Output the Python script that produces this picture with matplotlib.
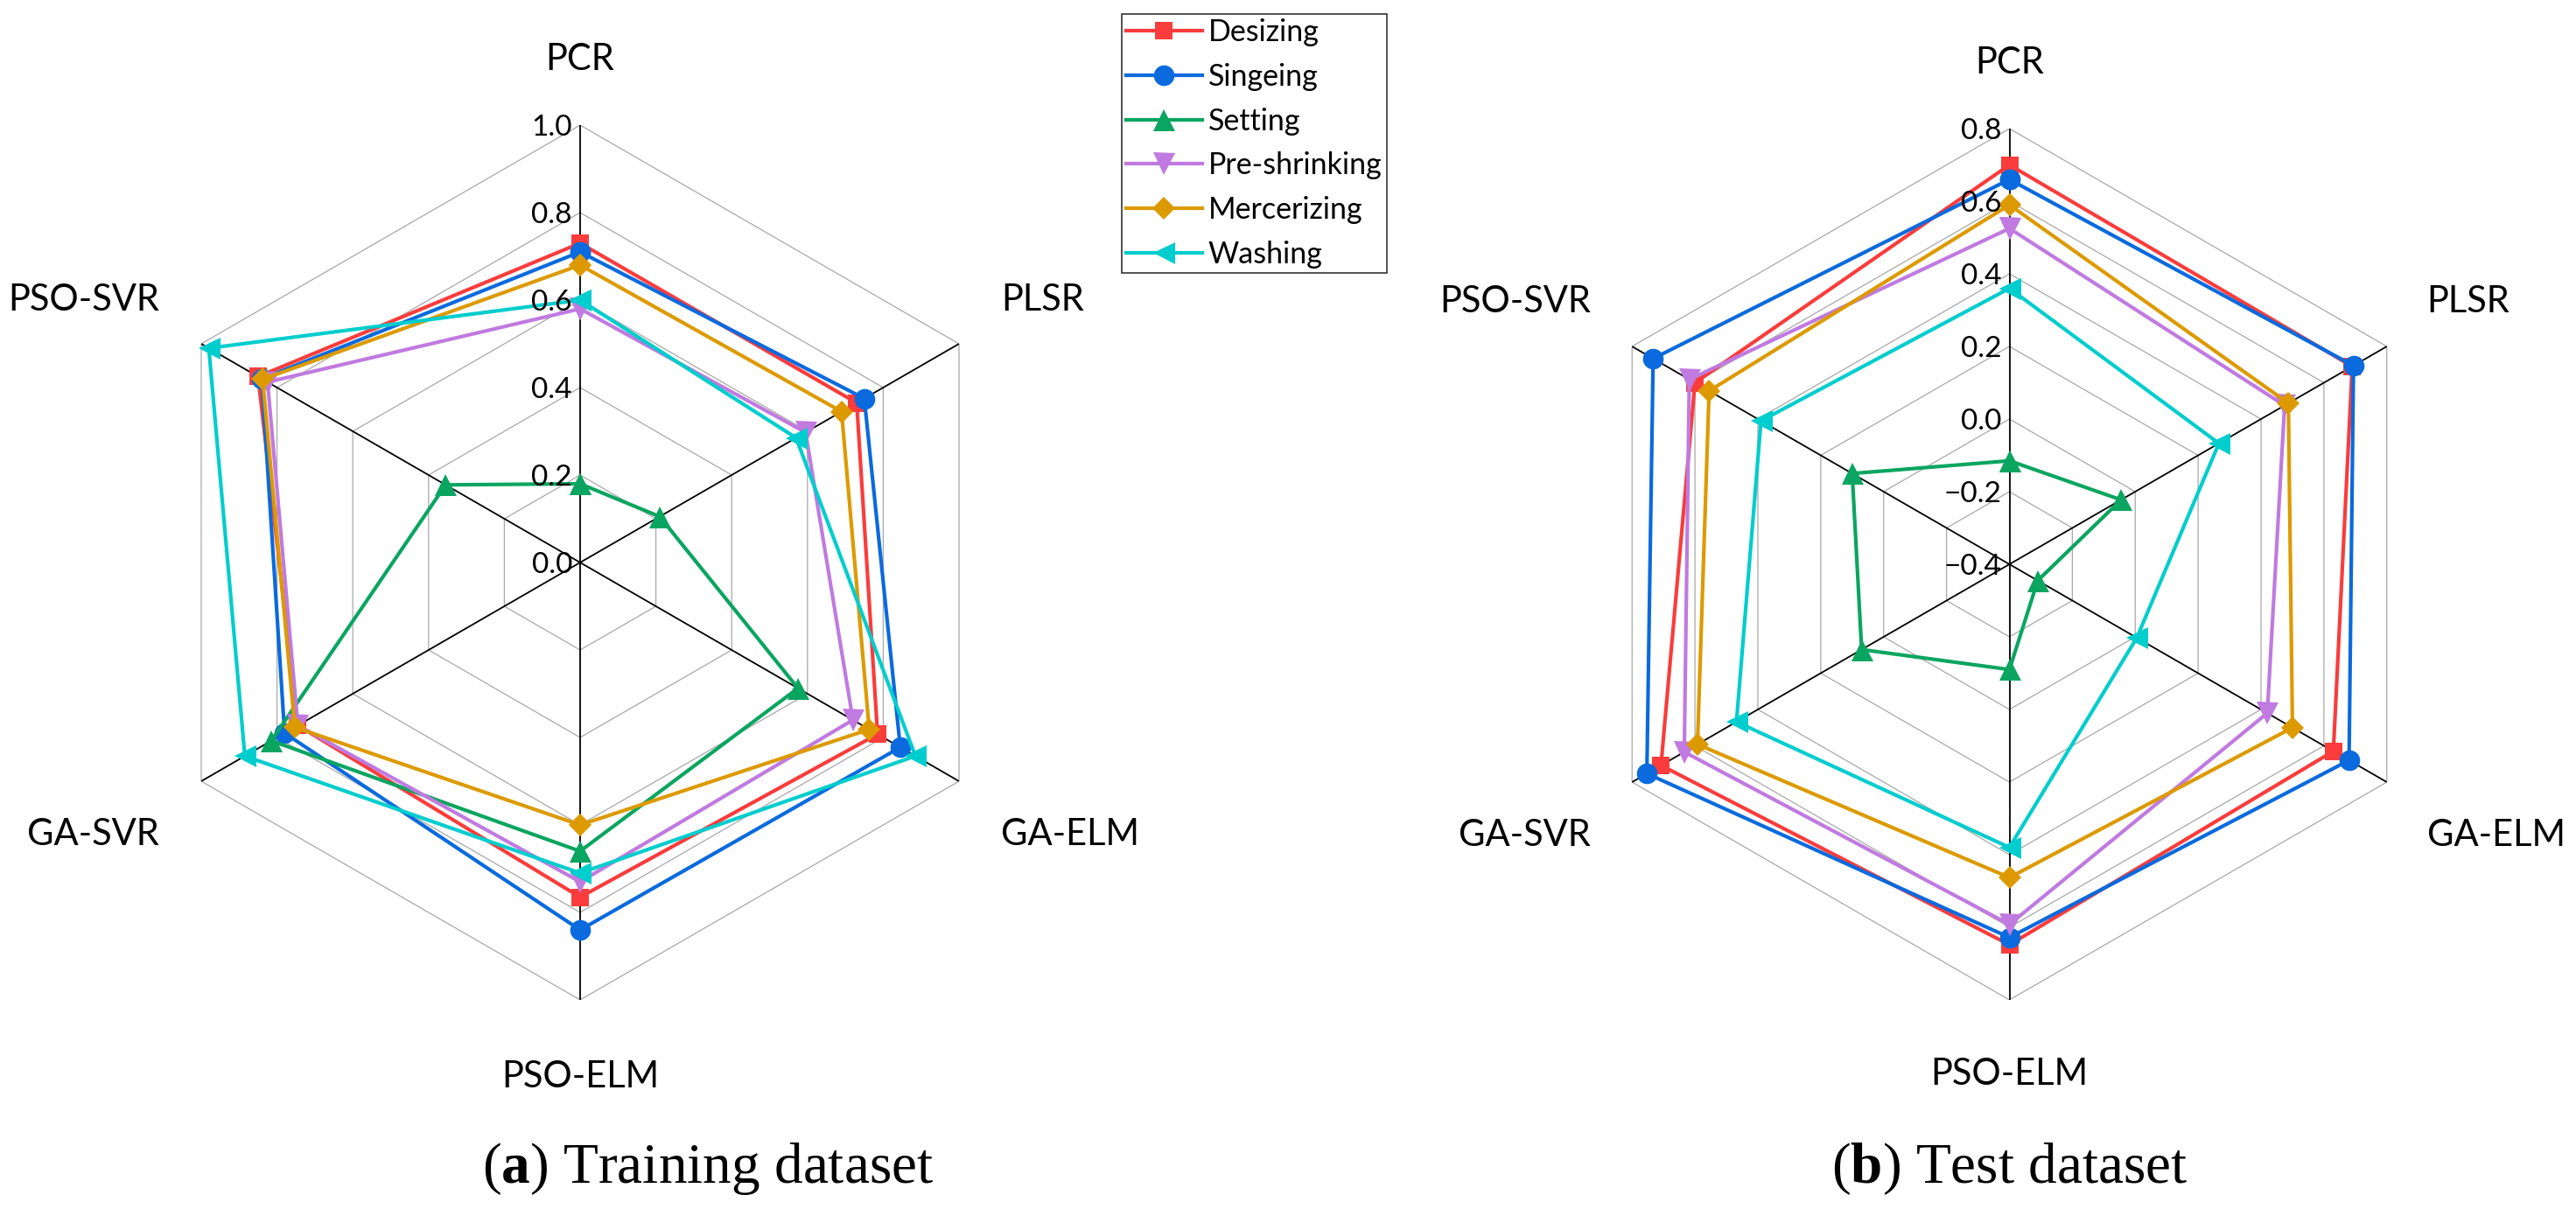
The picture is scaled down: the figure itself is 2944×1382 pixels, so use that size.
import numpy as np
import matplotlib
matplotlib.use("Agg")
import matplotlib.pyplot as plt
from matplotlib import transforms

# ---------------- data ----------------
categories = ['PCR', 'PLSR', 'GA-ELM', 'PSO-ELM', 'GA-SVR', 'PSO-SVR']
series_names = ['Desizing', 'Singeing', 'Setting', 'Pre-shrinking', 'Mercerizing', 'Washing']

train_desizing = [0.73, 0.73, 0.785, 0.765, 0.745, 0.85]
train_singeing = [0.71, 0.75, 0.845, 0.84, 0.78, 0.84]
train_setting = [0.18, 0.21, 0.575, 0.66, 0.815, 0.355]
train_preshrinking = [0.58, 0.595, 0.72, 0.73, 0.745, 0.825]
train_mercerizing = [0.68, 0.69, 0.763, 0.60, 0.753, 0.838]
train_washing = [0.60, 0.57, 0.885, 0.71, 0.885, 0.98]

test_desizing = [0.70, 0.69, 0.63, 0.648, 0.708, 0.60]
test_singeing = [0.66, 0.694, 0.68, 0.628, 0.753, 0.733]
test_setting = [-0.115, -0.045, -0.31, -0.11, 0.07, 0.10]
test_preshrinking = [0.525, 0.475, 0.42, 0.592, 0.634, 0.618]
test_mercerizing = [0.59, 0.487, 0.50, 0.463, 0.592, 0.555]
test_washing = [0.36, 0.266, 0.005, 0.38, 0.468, 0.39]

train_ticks = [0.0, 0.2, 0.4, 0.6, 0.8, 1.0]
test_ticks = [-0.4, -0.2, 0.0, 0.2, 0.4, 0.6, 0.8]

colors = ['#FA3C3C', '#0A6ADE', '#0AA560', '#C07AE0', '#DC9A00', '#00CDCD']
markers = ['s', 'o', '^', 'v', 'D', '<']
msizes = [14.5, 17, 18, 18, 13.5, 18]

train_data = [train_desizing, train_singeing, train_setting,
              train_preshrinking, train_mercerizing, train_washing]
test_data = [test_desizing, test_singeing, test_setting,
             test_preshrinking, test_mercerizing, test_washing]

LABEL_FONT = 'Lato'

W, H = 2944, 1382
fig = plt.figure(figsize=(W / 100, H / 100), dpi=100)
fig.patch.set_facecolor('white')


def fmt(v):
    s = f"{abs(v):.1f}"
    return ("\u2212" + s) if v < -1e-9 else s


def radar(rect, data, ticks, label_pos):
    ax = fig.add_axes(rect, projection='polar')
    ax.set_theta_zero_location('N')
    ax.set_theta_direction(-1)
    rmin, rmax = ticks[0], ticks[-1]
    ax.set_ylim(rmin, rmax)
    ax.grid(False)
    ax.spines['polar'].set_visible(False)
    ax.set_xticks([])
    ax.set_yticks([])
    ax.patch.set_alpha(0)

    n = len(categories)
    theta = np.arange(n) * 2 * np.pi / n
    th_c = np.append(theta, theta[0])

    # hexagonal rings
    for v in ticks[1:]:
        ax.plot(th_c, [v] * (n + 1), color='#A8A8A8', lw=0.9, zorder=1)
    # spokes
    for t in theta:
        ax.plot([t, t], [rmin, rmax], color='black', lw=1.3, zorder=2)

    handles = []
    for vals, c, m, ms, name in zip(data, colors, markers, msizes, series_names):
        v = np.append(vals, vals[0])
        h, = ax.plot(th_c, v, color=c, lw=3.0, marker=m, markersize=ms,
                     markeredgewidth=0, zorder=3, label=name, clip_on=False)
        handles.append(h)

    # tick labels on vertical axis
    off = transforms.offset_copy(ax.transData, fig=fig, x=-9, y=-12, units='dots')
    for v in ticks:
        ax.text(0, v, fmt(v), transform=off, ha='right', va='baseline',
                fontsize=24, family=LABEL_FONT, color='black', zorder=4)

    # category labels
    for cat, (x, y, ha) in zip(categories, label_pos):
        ax.text(x, y, cat, transform=ax.transAxes, ha=ha, va='baseline',
                fontsize=30, family=LABEL_FONT, color='black')
    return ax, handles


# left: centre (663, 643), radius 500 px
cxL, cyL, RL = 663, 643, 500
rectL = [(cxL - RL) / W, 1 - (cyL + RL) / H, 2 * RL / W, 2 * RL / H]
posL = [(0.5, 1.0635, 'center'), (0.981, 0.788, 'left'), (0.981, 0.1774, 'left'),
        (0.5, -0.1004, 'center'), (0.019, 0.1774, 'right'), (0.019, 0.788, 'right')]
axL, handles = radar(rectL, train_data, train_ticks, posL)

# right: centre (2296.5, 645), radius 498 px
cxR, cyR, RR = 2296.5, 645, 498
rectR = [(cxR - RR) / W, 1 - (cyR + RR) / H, 2 * RR / W, 2 * RR / H]
posR = [(0.5, 1.0633, 'center'), (0.979, 0.789, 'left'), (0.979, 0.177, 'left'),
        (0.5, -0.0974, 'center'), (0.0193, 0.177, 'right'), (0.0193, 0.789, 'right')]
axR, _ = radar(rectR, test_data, test_ticks, posR)

# legend
leg = fig.legend(handles, series_names, loc='upper left',
                 bbox_to_anchor=(1282 / W, 1 - 16 / H), bbox_transform=fig.transFigure,
                 prop={'family': LABEL_FONT, 'size': 24.5},
                 frameon=True, fancybox=False, framealpha=1, edgecolor='#333333',
                 borderpad=0.15, borderaxespad=0, handlelength=2.55, handletextpad=0.2,
                 labelspacing=0.55)
leg.get_frame().set_linewidth(1.2)

# captions
plt.rcParams['mathtext.fontset'] = 'custom'
plt.rcParams['mathtext.rm'] = 'Liberation Serif'
plt.rcParams['mathtext.bf'] = 'Liberation Serif:bold'
fig.text(809 / W, 1 - 1352 / H, r'($\mathbf{a}$) Training dataset', ha='center',
         va='baseline', fontsize=47, family='Liberation Serif')
fig.text(2297 / W, 1 - 1352 / H, r'($\mathbf{b}$) Test dataset', ha='center',
         va='baseline', fontsize=47, family='Liberation Serif')

fig.savefig('out.png', dpi=100, facecolor='white')
